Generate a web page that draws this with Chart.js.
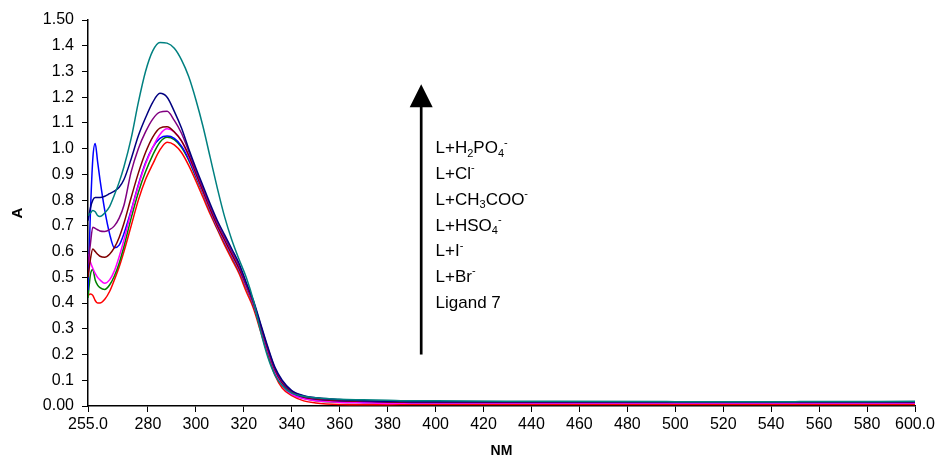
<!DOCTYPE html>
<html>
<head>
<meta charset="utf-8">
<title>UV-Vis spectra</title>
<script src="https://cdn.jsdelivr.net/npm/chart.js@4"></script>
<style>
  html, body { margin: 0; padding: 0; background: #fff; }
  #wrap { width: 939px; height: 460px; }
</style>
</head>
<body>
<div id="wrap"><canvas id="spectra"></canvas></div>
<script>
// wavelength grid (nm) shared by every curve
const wavelengths = [255, 256, 257, 258, 259, 260, 262, 264, 266, 268, 270, 273, 276, 279, 282, 285, 288,
  291, 294, 297, 300, 303, 306, 309, 312, 315, 318, 321, 324, 327, 330, 333, 336, 340, 345, 350,
  360, 370, 380, 390, 400, 450, 500, 550, 600];

// absorbance, one array per curve colour
const absTeal    = [0.74, 0.75, 0.76, 0.755, 0.74, 0.736, 0.75, 0.775, 0.82, 0.87, 0.93, 1.04, 1.18, 1.30, 1.38, 1.413, 1.41,
  1.39, 1.345, 1.28, 1.19, 1.085, 0.965, 0.845, 0.735, 0.645, 0.57, 0.50, 0.41, 0.29, 0.19, 0.12, 0.08, 0.05, 0.038, 0.032,
  0.026, 0.024, 0.022, 0.02, 0.02, 0.018, 0.017, 0.017, 0.018];
const absNavy    = [0.72, 0.77, 0.80, 0.81, 0.81, 0.81, 0.815, 0.825, 0.835, 0.85, 0.88, 0.96, 1.05, 1.12, 1.18, 1.215, 1.20,
  1.145, 1.08, 1.00, 0.925, 0.855, 0.785, 0.72, 0.665, 0.61, 0.555, 0.48, 0.41, 0.32, 0.23, 0.15, 0.10, 0.06, 0.04, 0.032,
  0.025, 0.02, 0.018, 0.017, 0.017, 0.017, 0.017, 0.017, 0.017];
const absPurple  = [0.55, 0.63, 0.695, 0.69, 0.685, 0.68, 0.678, 0.685, 0.70, 0.73, 0.78, 0.91, 1.00, 1.065, 1.115, 1.142, 1.145,
  1.11, 1.06, 0.99, 0.915, 0.845, 0.775, 0.71, 0.655, 0.60, 0.545, 0.475, 0.405, 0.315, 0.225, 0.145, 0.095, 0.058, 0.038, 0.03,
  0.024, 0.02, 0.018, 0.017, 0.017, 0.016, 0.016, 0.016, 0.016];
const absMaroon  = [0.50, 0.57, 0.61, 0.60, 0.59, 0.582, 0.578, 0.59, 0.615, 0.655, 0.71, 0.81, 0.905, 0.985, 1.045, 1.08, 1.085,
  1.065, 1.03, 0.975, 0.905, 0.835, 0.765, 0.70, 0.645, 0.59, 0.535, 0.47, 0.40, 0.31, 0.22, 0.14, 0.09, 0.055, 0.035, 0.027,
  0.02, 0.018, 0.016, 0.015, 0.015, 0.015, 0.015, 0.015, 0.015];
const absMagenta = [0.59, 0.56, 0.535, 0.515, 0.50, 0.49, 0.477, 0.49, 0.525, 0.58, 0.645, 0.755, 0.855, 0.94, 1.005, 1.055, 1.077,
  1.065, 1.03, 0.97, 0.90, 0.83, 0.76, 0.695, 0.64, 0.585, 0.53, 0.465, 0.395, 0.305, 0.215, 0.135, 0.08, 0.045, 0.028, 0.02,
  0.014, 0.012, 0.01, 0.012, 0.012, 0.012, 0.012, 0.012, 0.012];
const absBlue    = [0.45, 0.75, 0.96, 1.02, 0.95, 0.88, 0.76, 0.67, 0.615, 0.625, 0.67, 0.76, 0.86, 0.945, 1.005, 1.04, 1.049,
  1.04, 1.01, 0.96, 0.895, 0.83, 0.76, 0.695, 0.64, 0.585, 0.53, 0.465, 0.395, 0.305, 0.215, 0.135, 0.085, 0.05, 0.032, 0.025,
  0.018, 0.015, 0.015, 0.013, 0.013, 0.013, 0.013, 0.013, 0.013];
const absGreen   = [0.42, 0.51, 0.53, 0.49, 0.47, 0.46, 0.453, 0.47, 0.505, 0.555, 0.62, 0.73, 0.83, 0.91, 0.975, 1.025, 1.044,
  1.035, 1.005, 0.955, 0.89, 0.825, 0.755, 0.69, 0.635, 0.58, 0.525, 0.46, 0.39, 0.30, 0.21, 0.13, 0.08, 0.045, 0.03, 0.02,
  0.015, 0.013, 0.012, 0.012, 0.012, 0.012, 0.012, 0.012, 0.012];
const absRed     = [0.43, 0.435, 0.43, 0.41, 0.40, 0.40, 0.415, 0.445, 0.49, 0.54, 0.60, 0.70, 0.80, 0.88, 0.94, 0.995, 1.025,
  1.015, 0.985, 0.935, 0.875, 0.81, 0.745, 0.685, 0.625, 0.57, 0.515, 0.445, 0.38, 0.29, 0.20, 0.12, 0.07, 0.04, 0.02, 0.012,
  0.006, 0.005, 0.005, 0.006, 0.006, 0.006, 0.006, 0.006, 0.006];

// axis ticks
const xTicks = [255, 280, 300, 320, 340, 360, 380, 400, 420, 440, 460, 480, 500, 520, 540, 560, 580, 600];
const yTicks = [0, 0.1, 0.2, 0.3, 0.4, 0.5, 0.6, 0.7, 0.8, 0.9, 1.0, 1.1, 1.2, 1.3, 1.4, 1.5];

// arrow + label stack (in data units)
const arrowWl = 394, arrowFrom = 0.2, arrowTo = 1.25;
const noteWl = 400, noteTop = 1.0, noteStep = 0.1;
const noteRows = [
  [['L+H', ''], ['2', 'sub'], ['PO', ''], ['4', 'sub'], ['-', 'sup']],
  [['L+Cl', ''], ['-', 'sup']],
  [['L+CH', ''], ['3', 'sub'], ['COO', ''], ['-', 'sup']],
  [['L+HSO', ''], ['4', 'sub'], ['-', 'sup']],
  [['L+I', ''], ['-', 'sup']],
  [['L+Br', ''], ['-', 'sup']],
  [['Ligand 7', '']]
];

const FONT = '"Liberation Sans", Arial, sans-serif';
Chart.defaults.font.family = FONT;
Chart.defaults.color = '#000';

function curve(values, color) {
  return {
    data: wavelengths.map((w, i) => ({ x: w, y: values[i] })),
    borderColor: color,
    backgroundColor: color,
    borderWidth: 1.5,
    pointRadius: 0,
    cubicInterpolationMode: 'monotone',
    fill: false
  };
}

/* ── arrow and species list drawn on top ───────────── */
const arrowNote = {
  id: 'arrowNote',
  afterDatasetsDraw(chart) {
    const { ctx, scales: { x, y } } = chart;
    const ax = x.getPixelForValue(arrowWl);
    const y0 = y.getPixelForValue(arrowFrom);
    const y1 = y.getPixelForValue(arrowTo);
    ctx.save();
    ctx.strokeStyle = '#000';
    ctx.fillStyle = '#000';
    ctx.lineWidth = 2.7;
    ctx.beginPath();
    ctx.moveTo(ax, y0);
    ctx.lineTo(ax, y1 + 20);
    ctx.stroke();
    ctx.beginPath();
    ctx.moveTo(ax, y1);
    ctx.lineTo(ax - 11.5, y1 + 23);
    ctx.lineTo(ax + 11.5, y1 + 23);
    ctx.closePath();
    ctx.fill();

    ctx.textBaseline = 'middle';
    ctx.textAlign = 'left';
    noteRows.forEach((row, i) => {
      let tx = x.getPixelForValue(noteWl);
      const ty = y.getPixelForValue(noteTop - i * noteStep);
      row.forEach(([txt, kind]) => {
        ctx.font = (kind ? '11px ' : '17px ') + FONT;
        const dy = kind === 'sub' ? 5 : kind === 'sup' ? -6 : 0;
        ctx.fillText(txt, tx, ty + dy);
        tx += ctx.measureText(txt).width;
      });
    });
    ctx.restore();
  }
};

new Chart(document.getElementById('spectra'), {
  type: 'line',
  data: {
    datasets: [
      curve(absTeal, '#008080'),
      curve(absNavy, '#000080'),
      curve(absPurple, '#800080'),
      curve(absMaroon, '#800000'),
      curve(absMagenta, '#FF00FF'),
      curve(absBlue, '#0000FF'),
      curve(absGreen, '#008000'),
      curve(absRed, '#FF0000')
    ]
  },
  options: {
    responsive: true,
    maintainAspectRatio: false,
    animation: false,
    layout: { padding: { top: 20, right: 24, left: 0, bottom: 0 } },
    plugins: { legend: { display: false }, tooltip: { enabled: false } },
    scales: {
      x: {
        type: 'linear',
        min: 255,
        max: 600,
        afterBuildTicks: s => { s.ticks = xTicks.map(v => ({ value: v })); },
        afterFit: s => { s.height = 54; },
        grid: { drawOnChartArea: false, color: '#000', tickLength: 6, lineWidth: 1 },
        border: { color: '#000', width: 1.5 },
        ticks: {
          autoSkip: false, maxRotation: 0, color: '#000', padding: 3,
          font: { size: 16 },
          callback: v => (v === 255 || v === 600) ? v.toFixed(1) : String(v)
        },
        title: { display: true, text: 'NM', color: '#000', font: { size: 14, weight: 'bold' }, padding: { top: 4, bottom: 0 } }
      },
      y: {
        min: 0,
        max: 1.5,
        afterBuildTicks: s => { s.ticks = yTicks.map(v => ({ value: v })); },
        afterFit: s => { s.width = 88; },
        grid: { drawOnChartArea: false, color: '#000', tickLength: 6, lineWidth: 1 },
        border: { color: '#000', width: 1.5 },
        ticks: {
          color: '#000', padding: 8,
          font: { size: 16 },
          callback: v => (v === 0 || v === 1.5) ? v.toFixed(2) : v.toFixed(1)
        },
        title: { display: true, text: 'A', color: '#000', font: { size: 15, weight: 'bold' }, padding: { top: 9, bottom: 4 } }
      }
    }
  },
  plugins: [arrowNote]
});
</script>
</body>
</html>
